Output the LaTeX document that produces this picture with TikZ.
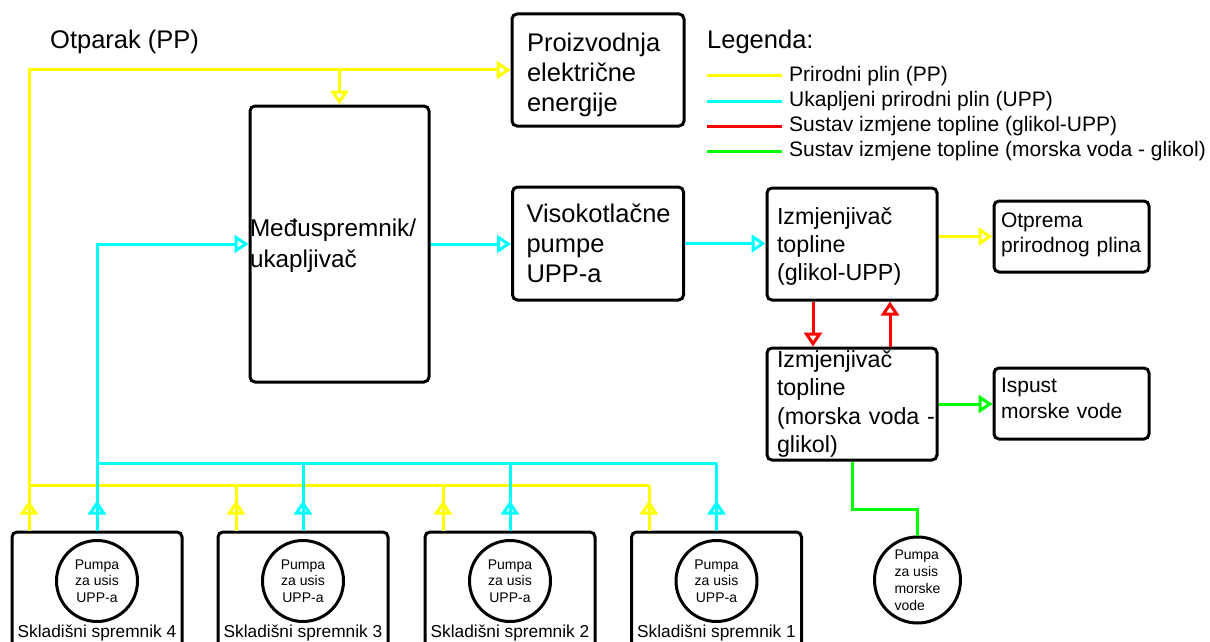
\documentclass[tikz,border=0pt]{standalone}
\usepackage{fontspec}
\setmainfont{Liberation Sans}
\usepackage{xcolor}
\usepackage{tikz}
\usetikzlibrary{arrows.meta, positioning}
\definecolor{ppyellow}{RGB}{255,255,0}
\definecolor{uppcyan}{RGB}{0,255,255}
\definecolor{glikred}{RGB}{255,0,0}
\definecolor{morgreen}{RGB}{0,255,0}

\begin{document}
\begin{tikzpicture}[
    x=1pt, y=-1pt,
    box/.style={rectangle, draw, line width=3pt, rounded corners=5pt, align=left, inner ysep=0pt},
    bigtxt/.style={font=\fontsize{25.5}{30}\selectfont},
    midtxt/.style={font=\fontsize{23.3}{28.3}\selectfont},
    smalltxt/.style={font=\fontsize{21}{25.5}\selectfont},
    tank/.style={rectangle, draw, line width=3pt, rounded corners=5pt, minimum width=170pt, minimum height=120pt},
    pump/.style={circle, draw, line width=3pt, minimum size=81pt, inner sep=0pt, align=center, font=\fontsize{14}{16.5}\selectfont},
    tanklbl/.style={inner sep=0pt, font=\fontsize{17.3}{20}\selectfont},
    pipe/.style={line width=3pt},
    arr/.style={-{Triangle[open, length=14pt, width=18pt]}}
]
\useasboundingbox (0,0) rectangle (1210,642);

% Main units
\node[box, bigtxt, minimum width=172pt, minimum height=112pt, text width=142pt, inner xsep=15pt, text depth=56pt] (proiz) at (598,70) {Proizvodnja\\električne\\energije};
\node[box, font=\fontsize{24.3}{31}\selectfont, minimum width=179pt, minimum height=276pt, text width=179pt, inner xsep=0pt, text depth=32pt] (meds) at (339.5,244) {Međuspremnik/\\ukapljivač};
\node[box, bigtxt, minimum width=171pt, minimum height=113pt, text width=143pt, inner xsep=14pt] (viso) at (598,243.5) {Visokotlačne\\pumpe\\UPP-a};
\node[box, midtxt, minimum width=170pt, minimum height=112pt, text width=150pt, inner xsep=10pt, text depth=56.5pt] (izmj1) at (852,244) {Izmjenjivač\\topline\\(glikol-UPP)};
\node[box, midtxt, minimum width=170pt, minimum height=112pt, text width=150pt, inner xsep=10pt] (izmj2) at (852,404) {Izmjenjivač\\topline\\\mbox{(morska voda -}\\glikol)};
\node[box, smalltxt, minimum width=155pt, minimum height=71pt, text width=141pt, inner xsep=7pt, text depth=33pt] (otp) at (1071.5,236.5) {Otprema\\prirodnog plina};
\node[box, smalltxt, minimum width=155pt, minimum height=71pt, text width=141pt, inner xsep=7pt, text depth=36pt] (isp) at (1071.5,403.5) {Ispust\\morske vode};

% Storage tanks
\node[tank] (t4) at (97,592) {};
\node[tank] (t3) at (303,592) {};
\node[tank] (t2) at (510,592) {};
\node[tank] (t1) at (716.5,592) {};
\node[pump] (p4) at (97,581) {Pumpa\\za usis\\UPP-a};
\node[pump] (p3) at (303,581) {Pumpa\\za usis\\UPP-a};
\node[pump] (p2) at (510,581) {Pumpa\\za usis\\UPP-a};
\node[pump] (p1) at (716.5,581) {Pumpa\\za usis\\UPP-a};
\node[tanklbl] (l4) at (97,633) {Skladišni spremnik 4};
\node[tanklbl] (l3) at (303,633) {Skladišni spremnik 3};
\node[tanklbl] (l2) at (510,633) {Skladišni spremnik 2};
\node[tanklbl] (l1) at (716.5,633) {Skladišni spremnik 1};

% Sea water pump
\node[pump, minimum size=86pt, align=left, font=\fontsize{14}{17}\selectfont] (seap) at (917.5,580) {Pumpa\\za usis\\morske\\vode};

% Boil-off gas (yellow)
\node[bigtxt, anchor=west, inner sep=0pt] (otpar) at (50,42) {Otparak (PP)};
\coordinate (ycorner) at (29,70);
\coordinate (yh4) at (29,485);
\coordinate (yh3) at (236,485);
\coordinate (yh2) at (443,485);
\coordinate (yh1) at (649,485);
\draw[pipe, ppyellow, arr] (yh4) -- (ycorner) -- (proiz.west);
\draw[pipe, ppyellow, arr] (meds.north |- proiz.west) -- (meds.north);
\draw[pipe, ppyellow] (yh4) -- (yh1);
\draw[pipe, ppyellow] (t4.north -| yh4) -- (yh4);
\draw[pipe, ppyellow] (t3.north -| yh3) -- (yh3);
\draw[pipe, ppyellow] (t2.north -| yh2) -- (yh2);
\draw[pipe, ppyellow] (t1.north -| yh1) -- (yh1);
\draw[pipe, ppyellow, arr] (t4.north -| yh4) -- ++(0,-30);
\draw[pipe, ppyellow, arr] (t3.north -| yh3) -- ++(0,-30);
\draw[pipe, ppyellow, arr] (t2.north -| yh2) -- ++(0,-30);
\draw[pipe, ppyellow, arr] (t1.north -| yh1) -- ++(0,-30);
\draw[pipe, ppyellow, arr] (izmj1.east |- otp.west) -- (otp.west);

% LNG (cyan)
\coordinate (ch4) at (97,463);
\coordinate (ch3) at (303,463);
\coordinate (ch2) at (510,463);
\coordinate (ch1) at (716.5,463);
\draw[pipe, uppcyan, arr] (ch4) -- (meds.west -| ch4) -- (meds.west);
\draw[pipe, uppcyan] (ch4) -- (ch1);
\draw[pipe, uppcyan] (t4.north) -- (ch4);
\draw[pipe, uppcyan] (t3.north) -- (ch3);
\draw[pipe, uppcyan] (t2.north) -- (ch2);
\draw[pipe, uppcyan] (t1.north) -- (ch1);
\draw[pipe, uppcyan, arr] (t4.north) -- ++(0,-30);
\draw[pipe, uppcyan, arr] (t3.north) -- ++(0,-30);
\draw[pipe, uppcyan, arr] (t2.north) -- ++(0,-30);
\draw[pipe, uppcyan, arr] (t1.north) -- ++(0,-30);
\draw[pipe, uppcyan, arr] (meds.east) -- (meds.east -| viso.west);
\draw[pipe, uppcyan, arr] (viso.east) -- (viso.east -| izmj1.west);

% Glycol loop (red) and sea water (green)
\draw[pipe, glikred, arr] ([xshift=-39pt]izmj1.south) -- ([xshift=-39pt]izmj2.north);
\draw[pipe, glikred, arr] ([xshift=38pt]izmj2.north) -- ([xshift=38pt]izmj1.south);
\draw[pipe, morgreen, arr] (izmj2.east) -- (izmj2.east -| isp.west);
\draw[pipe, morgreen] (izmj2.south) -- ++(0,48) -| (seap.north);

% Legend
\node[bigtxt, anchor=west, inner sep=0pt] (leg) at (707,42) {Legenda:};
\node[smalltxt, anchor=west, inner sep=0pt] (lg1) at (789,76) {Prirodni plin (PP)};
\node[smalltxt, anchor=west, inner sep=0pt] (lg2) at (789,101) {Ukapljeni prirodni plin (UPP)};
\node[smalltxt, anchor=west, inner sep=0pt] (lg3) at (789,126) {Sustav izmjene topline (glikol-UPP)};
\node[smalltxt, anchor=west, inner sep=0pt] (lg4) at (789,151) {Sustav izmjene topline (morska voda - glikol)};
\draw[pipe, ppyellow] ([xshift=-7pt]lg1.west) -- ++(-75,0);
\draw[pipe, uppcyan] ([xshift=-7pt]lg2.west) -- ++(-75,0);
\draw[pipe, glikred] ([xshift=-7pt]lg3.west) -- ++(-75,0);
\draw[pipe, morgreen] ([xshift=-7pt]lg4.west) -- ++(-75,0);
\end{tikzpicture}
\end{document}
